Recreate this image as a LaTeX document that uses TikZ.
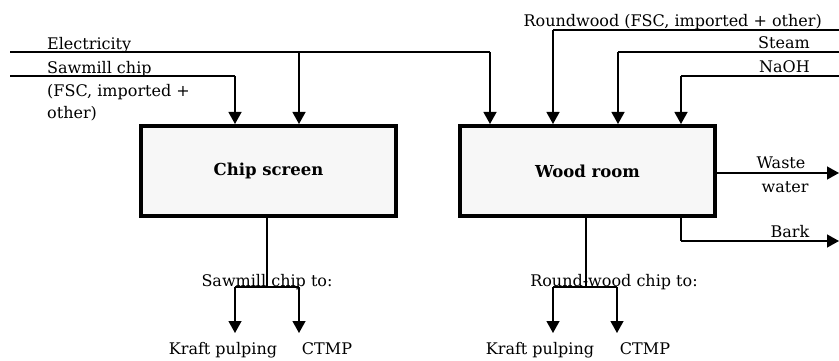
\documentclass[tikz,border=0pt]{standalone}
\usepackage{fontspec}
\setmainfont{DejaVu Serif}
\usetikzlibrary{arrows.meta, positioning}

\begin{document}
\begin{tikzpicture}[x=1pt, y=-1pt,
  unit/.style={draw, line width=4pt, fill=black!3, minimum width=255pt, minimum height=90pt, inner sep=0pt, font=\fontsize{16.5}{19}\selectfont\bfseries},
  link/.style={line width=1.3pt},
  flow/.style={line width=1.3pt, -{Triangle[width=13pt,length=12pt]}},
  lbl/.style={inner sep=0pt, font=\fontsize{16}{19}\selectfont}
]
  \useasboundingbox (0,0) rectangle (839,361);

  % process boxes
  \node[unit] (chipscreen) at (268.5, 171) {Chip screen};
  \node[unit] (woodroom) at (587.5, 171) {Wood room};

  % inputs from the left
  \coordinate (elecL) at (10,52);
  \coordinate (elecC) at (299,52);
  \coordinate (elecR) at (490,52);
  \coordinate (sawL) at (10,76);
  \coordinate (sawR) at (235,76);
  \draw[link] (elecL) -- (elecR);
  \draw[flow] (elecC) -- (elecC |- chipscreen.north);
  \draw[flow] (elecR) -- (elecR |- woodroom.north);
  \draw[link] (sawL) -- (sawR);
  \draw[flow] (sawR) -- (sawR |- chipscreen.north);
  \node[lbl, anchor=base west] (electxt) at (47,50) {Electricity};
  \node[lbl, anchor=base west] (sawtxt) at (47,74) {Sawmill chip};
  \node[lbl, anchor=base west] (sawtxtb) at (47,97) {(FSC, imported +};
  \node[lbl, anchor=base west] (sawtxtc) at (47,119) {other)};

  % inputs from the right
  \coordinate (roundR) at (839,30);
  \coordinate (roundL) at (553,30);
  \coordinate (steamR) at (839,52);
  \coordinate (steamL) at (618,52);
  \coordinate (naohR) at (839,76);
  \coordinate (naohL) at (681,76);
  \draw[link] (roundR) -- (roundL);
  \draw[flow] (roundL) -- (roundL |- woodroom.north);
  \draw[link] (steamR) -- (steamL);
  \draw[flow] (steamL) -- (steamL |- woodroom.north);
  \draw[link] (naohR) -- (naohL);
  \draw[flow] (naohL) -- (naohL |- woodroom.north);
  \node[lbl, anchor=base east] (roundtxt) at (822,27) {Roundwood (FSC, imported + other)};
  \node[lbl, anchor=base east] (steamtxt) at (810,49) {Steam};
  \node[lbl, anchor=base east] (naohtxt) at (810,73) {NaOH};

  % outputs to the right
  \coordinate (wasteR) at (839,173);
  \coordinate (barkT) at (681,218);
  \coordinate (barkB) at (681,241);
  \coordinate (barkR) at (839,241);
  \draw[flow] (woodroom.east |- wasteR) -- (wasteR);
  \draw[link] (barkT) -- (barkB);
  \draw[flow] (barkB) -- (barkR);
  \node[lbl, anchor=base] (wastetxt) at (781,168) {Waste};
  \node[lbl, anchor=base] (watertxt) at (785,192) {water};
  \node[lbl, anchor=base] (barktxt) at (790,237) {Bark};

  % sawmill chip outputs
  \coordinate (sawsplit) at (267,287);
  \coordinate (sawkL) at (235,287);
  \coordinate (sawkR) at (299,287);
  \coordinate (sawkLend) at (235,333);
  \coordinate (sawkRend) at (299,333);
  \draw[link] (chipscreen.south -| sawsplit) -- (sawsplit);
  \draw[link] (sawkL) -- (sawkR);
  \draw[flow] (sawkL) -- (sawkLend);
  \draw[flow] (sawkR) -- (sawkRend);
  \node[lbl, anchor=base] (sawouttxt) at (267,286) {Sawmill chip to:};
  \node[lbl, anchor=base] (kraftA) at (223,354) {Kraft pulping};
  \node[lbl, anchor=base] (ctmpA) at (327,354) {CTMP};

  % round-wood chip outputs
  \coordinate (roundsplit) at (586,287);
  \coordinate (roundkL) at (553,287);
  \coordinate (roundkR) at (617,287);
  \coordinate (roundkLend) at (553,333);
  \coordinate (roundkRend) at (617,333);
  \draw[link] (woodroom.south -| roundsplit) -- (roundsplit);
  \draw[link] (roundkL) -- (roundkR);
  \draw[flow] (roundkL) -- (roundkLend);
  \draw[flow] (roundkR) -- (roundkRend);
  \node[lbl, anchor=base] (roundouttxt) at (614,286) {Round-wood chip to:};
  \node[lbl, anchor=base] (kraftB) at (540,354) {Kraft pulping};
  \node[lbl, anchor=base] (ctmpB) at (645,354) {CTMP};
\end{tikzpicture}
\end{document}
